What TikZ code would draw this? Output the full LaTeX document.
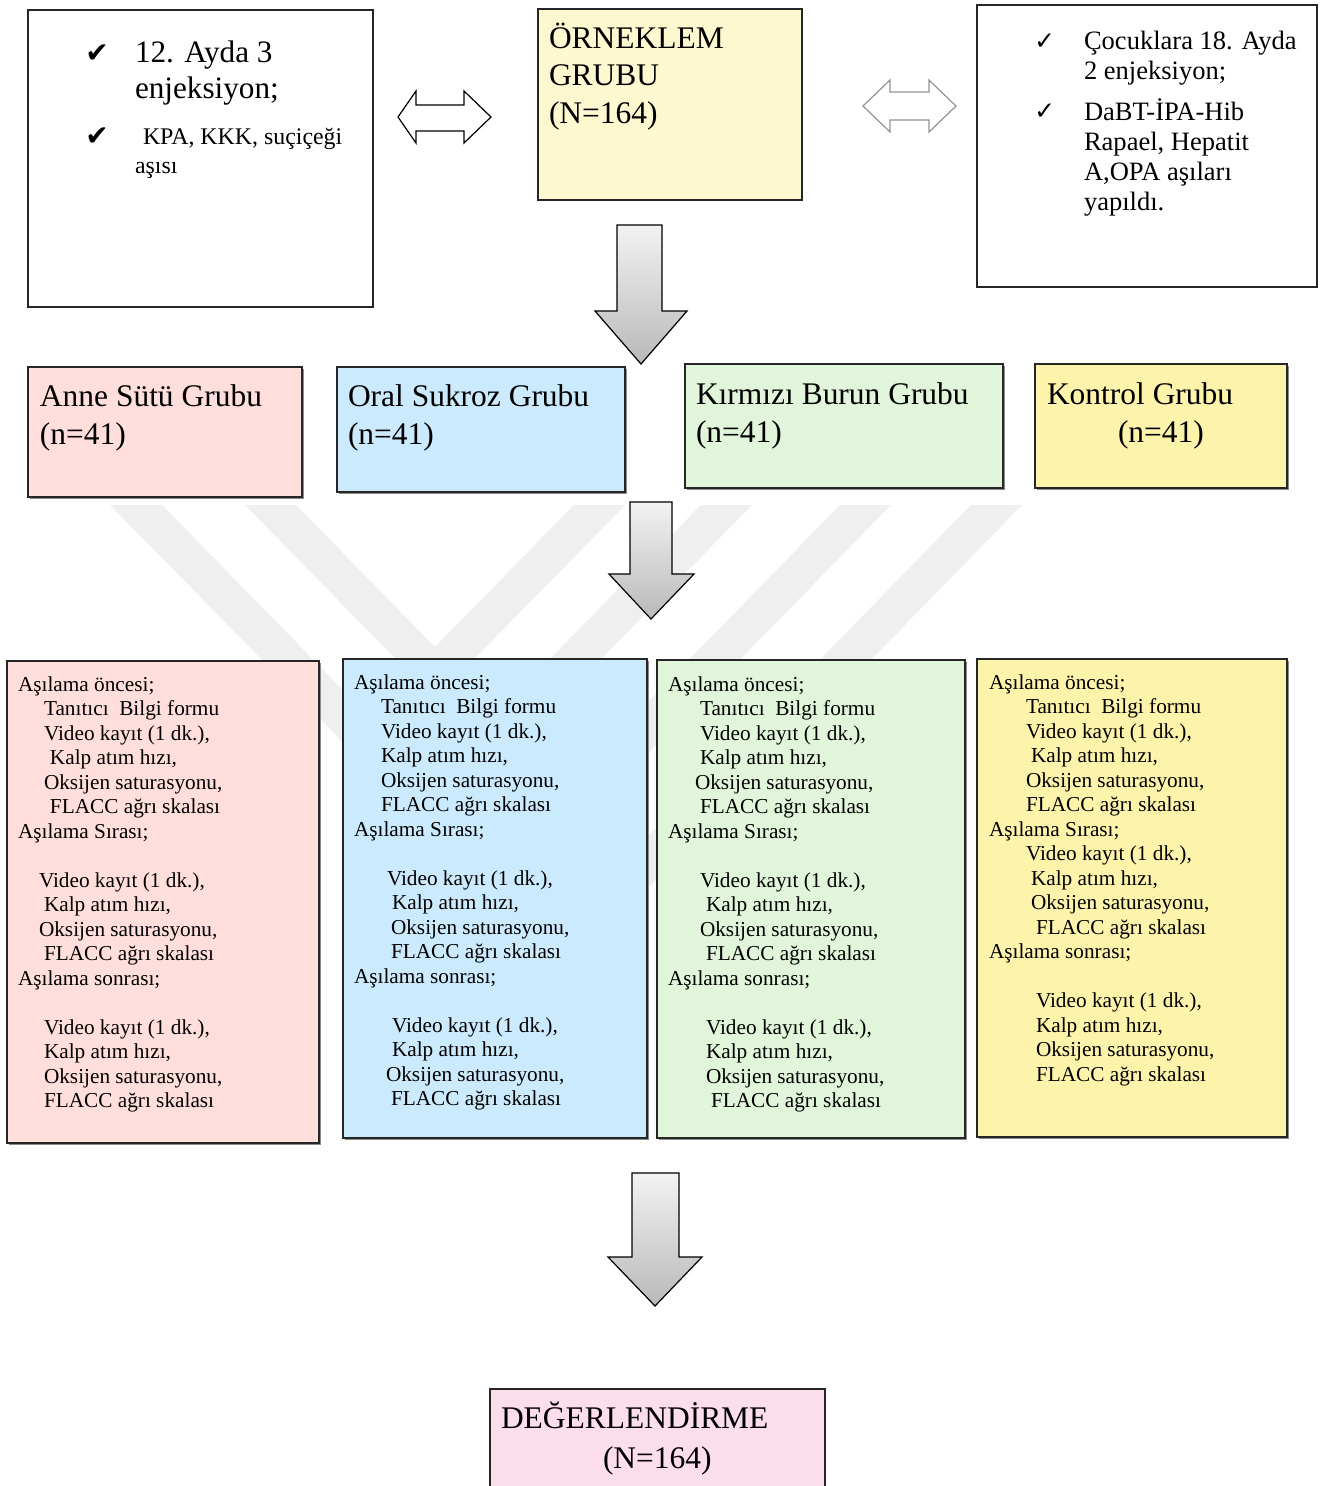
\documentclass[tikz,border=0pt]{standalone}
\usepackage{fontspec}
\setmainfont{Liberation Serif}
\newfontfamily\symfont{DejaVu Sans}
\usetikzlibrary{shadows}
\newlength\pxu \setlength\pxu{0.75pt}
\newcommand\Ln[2]{\hspace*{#1\pxu}#2\par}
\newcommand\Bk{\mbox{}\par}
\newcommand\mkbox[6]{\node[#6, anchor=north west, inner sep=0pt, outer sep=0pt, minimum width={(#4-#2)*\pxu}, minimum height={(#5-#3)*\pxu}] (#1) at (#2,#3) {};}
\newcommand\txtblock[5]{\node[anchor=base west, inner sep=0pt, outer sep=0pt] (#1) at (#2,#3) {\begin{minipage}[t]{330\pxu}\setlength\parindent{0pt}\setlength\parskip{0pt}#4#5\end{minipage}};}
\newcommand\bodyfont{\fontsize{15.95}{18.375}\selectfont}
\newcommand\bigfont{\fontsize{23.6}{28.3}\selectfont}
\definecolor{cOrn}{HTML}{FDF8CF}
\definecolor{cPink}{HTML}{FFDEDB}
\definecolor{cBlue}{HTML}{CCEAFD}
\definecolor{cGreen}{HTML}{E0F5D9}
\definecolor{cYel}{HTML}{FEF3AB}
\definecolor{cEval}{HTML}{FBDDEC}
\definecolor{cWm}{HTML}{EFEFEF}
\begin{document}
\begin{tikzpicture}[x=0.75pt,y=-0.75pt,
  plain/.style={draw=black!85, line width=0.9pt, fill=white},
  colbox/.style={draw=black!85, line width=0.9pt, drop shadow={shadow xshift=1.5pt, shadow yshift=-1.5pt, fill=black!45, opacity=1}},
  blockarrow/.style={draw=black, line width=0.9pt, top color=gray!10, bottom color=gray!55},
  dblarrow/.style={line width=0.9pt, fill=white}]
\useasboundingbox[fill=white] (0,0) rectangle (1324,1486);
% watermark
\fill[cWm] (110,505) -- (162,505) -- (431,780) -- (701,505) -- (752,505) -- (431,832) -- cycle;
\fill[cWm] (245,505) -- (296,505) -- (435,647) -- (574,505) -- (625,505) -- (435,699) -- cycle;
\fill[cWm] (840,505) -- (891,505) -- (520,885) -- (469,885) -- cycle;
\fill[cWm] (971,505) -- (1022,505) -- (651,885) -- (600,885) -- cycle;
% top row
\mkbox{tl}{28}{10}{373}{307}{plain}
\mkbox{orn}{538}{9}{802}{200}{plain, fill=cOrn}
\mkbox{tr}{977}{5}{1317}{287}{plain}
\node[anchor=base west, inner sep=0pt] (ck1) at (85,62) {\symfont\fontsize{21}{21}\selectfont ✔};
\node[anchor=base west, inner sep=0pt] (ck2) at (85,145) {\symfont\fontsize{21}{21}\selectfont ✔};
\txtblock{tltxt}{135}{62}{\fontsize{23.4}{27}\selectfont}{12. Ayda 3\par enjeksiyon;}
\txtblock{tltxt2}{135}{144}{\fontsize{17.9}{21.75}\selectfont}{\Ln{8}{KPA, KKK, suçiçeği}\Ln{0}{aşısı}}
\txtblock{orntxt}{549}{48}{\bigfont}{ÖRNEKLEM\par GRUBU\par (N=164)}
\node[anchor=base west, inner sep=0pt] (ck3) at (1034,49) {\symfont\fontsize{18.5}{18.5}\selectfont ✓};
\node[anchor=base west, inner sep=0pt] (ck4) at (1034,119) {\symfont\fontsize{18.5}{18.5}\selectfont ✓};
\txtblock{trtxt}{1084}{49}{\fontsize{19.9}{22.5}\selectfont}{Çocuklara 18. Ayda\par 2 enjeksiyon;\par\vspace{11\pxu}DaBT-İPA-Hib\par Rapael, Hepatit\par A,OPA aşıları\par yapıldı.}
% double arrows
\draw[dblarrow, draw=black] (398,117) -- (416,91) -- (416,105) -- (464,105) -- (464,91) -- (491,117) -- (464,143) -- (464,131) -- (416,131) -- (416,143) -- cycle;
\draw[dblarrow, draw=gray!85] (863,106) -- (890,80) -- (890,92) -- (929,92) -- (929,80) -- (956,106) -- (929,132) -- (929,120) -- (890,120) -- (890,132) -- cycle;
% arrow 1
\draw[blockarrow] (617,225) -- (662,225) -- (662,311) -- (687,311) -- (641,364) -- (595,311) -- (617,311) -- cycle;
% group row
\mkbox{g1}{28}{367}{302}{497}{colbox, fill=cPink}
\mkbox{g2}{337}{367}{625}{492}{colbox, fill=cBlue}
\mkbox{g3}{685}{364}{1003}{488}{colbox, fill=cGreen}
\mkbox{g4}{1035}{364}{1287}{488}{colbox, fill=cYel}
\txtblock{g1t}{40}{406}{\fontsize{23.6}{28.5}\selectfont}{Anne Sütü Grubu\par (n=41)}
\txtblock{g2t}{348}{406}{\fontsize{23.6}{28.5}\selectfont}{Oral Sukroz Grubu\par (n=41)}
\txtblock{g3t}{696}{404}{\fontsize{23.6}{28.5}\selectfont}{Kırmızı Burun Grubu\par (n=41)}
\txtblock{g4t}{1047}{404}{\fontsize{23.6}{28.5}\selectfont}{Kontrol Grubu\par\Ln{71}{(n=41)}}
% arrow 2
\draw[blockarrow] (630,502) -- (672,502) -- (672,574) -- (694,574) -- (651,619) -- (609,574) -- (630,574) -- cycle;
% detail row
\mkbox{d1}{7}{661}{319}{1143}{colbox, fill=cPink}
\mkbox{d2}{343}{659}{647}{1138}{colbox, fill=cBlue}
\mkbox{d3}{657}{660}{965}{1138}{colbox, fill=cGreen}
\mkbox{d4}{977}{659}{1287}{1137}{colbox, fill=cYel}
\txtblock{d1t}{18}{691}{\bodyfont}{%
\Ln{0}{Aşılama öncesi;}\Ln{26}{Tanıtıcı~ Bilgi formu}\Ln{26}{Video kayıt (1 dk.),}\Ln{32}{Kalp atım hızı,}\Ln{26}{Oksijen saturasyonu,}\Ln{32}{FLACC ağrı skalası}%
\Ln{0}{Aşılama Sırası;}\Bk\Ln{21}{Video kayıt (1 dk.),}\Ln{26}{Kalp atım hızı,}\Ln{21}{Oksijen saturasyonu,}\Ln{26}{FLACC ağrı skalası}%
\Ln{0}{Aşılama sonrası;}\Bk\Ln{26}{Video kayıt (1 dk.),}\Ln{26}{Kalp atım hızı,}\Ln{26}{Oksijen saturasyonu,}\Ln{26}{FLACC ağrı skalası}}
\txtblock{d2t}{354}{689}{\bodyfont}{%
\Ln{0}{Aşılama öncesi;}\Ln{27}{Tanıtıcı~ Bilgi formu}\Ln{27}{Video kayıt (1 dk.),}\Ln{27}{Kalp atım hızı,}\Ln{27}{Oksijen saturasyonu,}\Ln{27}{FLACC ağrı skalası}%
\Ln{0}{Aşılama Sırası;}\Bk\Ln{33}{Video kayıt (1 dk.),}\Ln{38}{Kalp atım hızı,}\Ln{37}{Oksijen saturasyonu,}\Ln{37}{FLACC ağrı skalası}%
\Ln{0}{Aşılama sonrası;}\Bk\Ln{38}{Video kayıt (1 dk.),}\Ln{38}{Kalp atım hızı,}\Ln{32}{Oksijen saturasyonu,}\Ln{37}{FLACC ağrı skalası}}
\txtblock{d3t}{668}{691}{\bodyfont}{%
\Ln{0}{Aşılama öncesi;}\Ln{32}{Tanıtıcı~ Bilgi formu}\Ln{32}{Video kayıt (1 dk.),}\Ln{32}{Kalp atım hızı,}\Ln{27}{Oksijen saturasyonu,}\Ln{32}{FLACC ağrı skalası}%
\Ln{0}{Aşılama Sırası;}\Bk\Ln{32}{Video kayıt (1 dk.),}\Ln{38}{Kalp atım hızı,}\Ln{32}{Oksijen saturasyonu,}\Ln{38}{FLACC ağrı skalası}%
\Ln{0}{Aşılama sonrası;}\Bk\Ln{38}{Video kayıt (1 dk.),}\Ln{38}{Kalp atım hızı,}\Ln{38}{Oksijen saturasyonu,}\Ln{43}{FLACC ağrı skalası}}
\txtblock{d4t}{989}{689}{\bodyfont}{%
\Ln{0}{Aşılama öncesi;}\Ln{37}{Tanıtıcı~ Bilgi formu}\Ln{37}{Video kayıt (1 dk.),}\Ln{42}{Kalp atım hızı,}\Ln{37}{Oksijen saturasyonu,}\Ln{37}{FLACC ağrı skalası}%
\Ln{0}{Aşılama Sırası;}\Ln{37}{Video kayıt (1 dk.),}\Ln{42}{Kalp atım hızı,}\Ln{42}{Oksijen saturasyonu,}\Ln{47}{FLACC ağrı skalası}%
\Ln{0}{Aşılama sonrası;}\Bk\Ln{47}{Video kayıt (1 dk.),}\Ln{47}{Kalp atım hızı,}\Ln{47}{Oksijen saturasyonu,}\Ln{47}{FLACC ağrı skalası}}
% arrow 3
\draw[blockarrow] (632,1173) -- (679,1173) -- (679,1257) -- (702,1257) -- (655,1306) -- (608,1257) -- (632,1257) -- cycle;
% evaluation
\mkbox{ev}{490}{1389}{825}{1500}{plain, fill=cEval}
\txtblock{evt}{501}{1428}{\fontsize{23.6}{30}\selectfont}{DEĞERLENDİRME\par\Ln{102}{(N=164)}}
\end{tikzpicture}
\end{document}
